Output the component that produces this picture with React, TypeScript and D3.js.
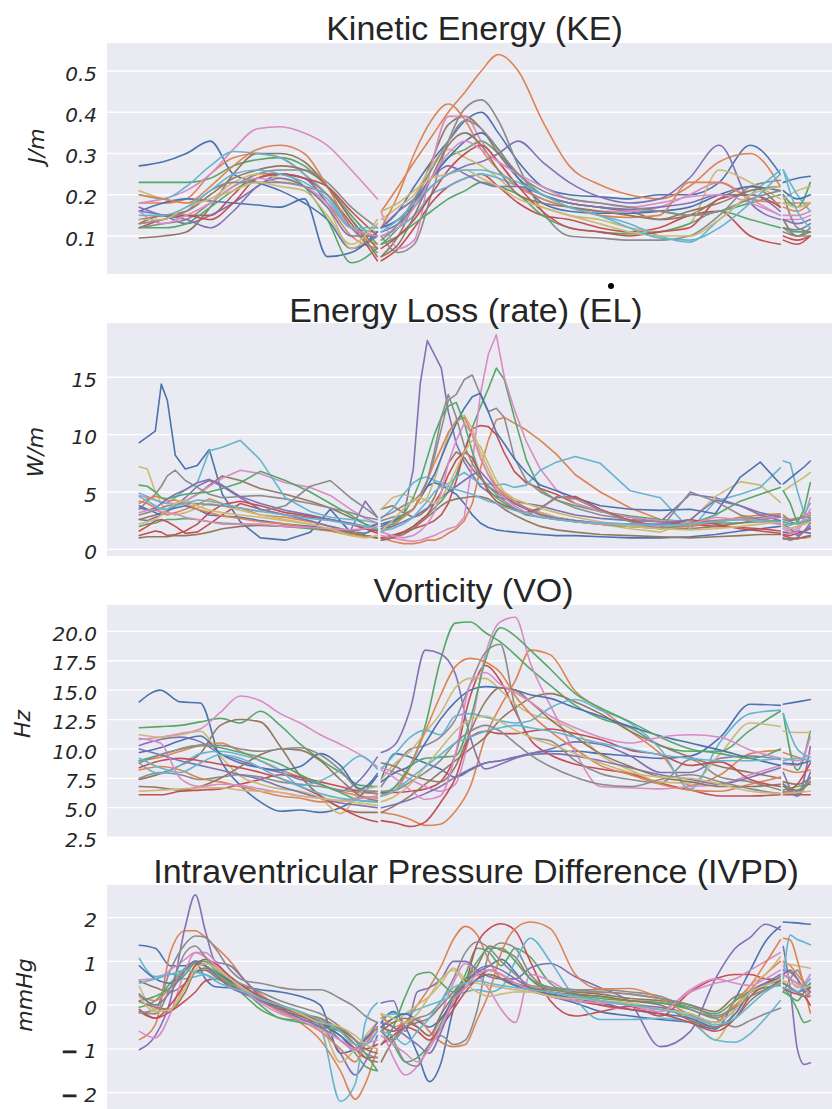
import * as d3 from 'd3'

// seaborn "deep" palette, one colour per case (cycled)
const palette = ['#4c72b0', '#dd8452', '#55a868', '#c44e52', '#8172b3', '#937860', '#da8bc3', '#8c8c8c', '#ccb974', '#64b5cd']

// sample times (ms) of the three recorded stretches of the cycle
const keTimes = [
  [0, 24, 47, 71, 94, 118, 141, 165, 188, 212, 238],
  [242, 259, 275, 292, 309, 326, 342, 359, 379, 403, 430, 460, 490, 520, 550, 580, 611, 641],
  [644, 658, 671],
]
const elTimes = [
  [0, 8, 16, 22, 28, 36, 46, 58, 70, 83, 101, 121, 146, 171, 191, 211, 226, 238],
  [242, 253, 264, 274, 281, 288, 295, 302, 309, 317, 325, 333, 341, 349, 357, 365, 375, 387, 401, 417, 436, 461, 491, 521, 551, 576, 601, 621, 641],
  [644, 651, 658, 665, 671],
]
const voTimes = [
  [0, 21, 41, 61, 81, 101, 121, 141, 161, 181, 201, 221, 238],
  [242, 256, 271, 286, 301, 316, 331, 346, 361, 376, 391, 411, 436, 461, 491, 521, 551, 581, 611, 641],
  [644, 658, 671],
]
const ipTimes = [
  [0, 16, 31, 46, 56, 66, 76, 91, 106, 121, 141, 161, 181, 201, 216, 226, 238],
  [242, 254, 266, 278, 290, 302, 314, 326, 338, 350, 362, 376, 391, 411, 436, 461, 491, 521, 551, 576, 596, 611, 626, 641],
  [644, 651, 658, 665, 671],
]

// Kinetic energy, J/m
const keSeries = [
  [[0.27,0.28,0.30,0.33,0.25,0.23,0.21,0.18,0.14,0.07,0.10],[0.12,0.16,0.22,0.28,0.33,0.38,0.40,0.35,0.28,0.22,0.20,0.195,0.19,0.20,0.20,0.23,0.32,0.25],[0.23,0.24,0.245]],
  [[0.18,0.18,0.19,0.25,0.29,0.30,0.29,0.25,0.18,0.10,0.07],[0.16,0.22,0.28,0.34,0.40,0.45,0.50,0.54,0.50,0.38,0.27,0.225,0.20,0.19,0.22,0.28,0.30,0.22],[0.18,0.18,0.18]],
  [[0.23,0.23,0.23,0.24,0.27,0.285,0.29,0.27,0.22,0.15,0.08],[0.08,0.12,0.18,0.24,0.29,0.31,0.33,0.30,0.25,0.20,0.18,0.17,0.16,0.16,0.15,0.16,0.18,0.20],[0.20,0.17,0.23]],
  [[0.12,0.14,0.15,0.15,0.20,0.25,0.25,0.24,0.20,0.13,0.04],[0.04,0.07,0.12,0.18,0.22,0.24,0.25,0.22,0.18,0.15,0.14,0.12,0.11,0.12,0.15,0.16,0.10,0.08],[0.09,0.08,0.10]],
  [[0.16,0.15,0.13,0.15,0.18,0.22,0.25,0.24,0.18,0.12,0.10],[0.11,0.13,0.17,0.22,0.25,0.27,0.28,0.30,0.33,0.28,0.23,0.195,0.18,0.19,0.24,0.32,0.18,0.14],[0.12,0.115,0.13]],
  [[0.095,0.10,0.11,0.17,0.25,0.30,0.30,0.28,0.22,0.14,0.05],[0.05,0.10,0.18,0.28,0.37,0.39,0.36,0.30,0.24,0.20,0.18,0.17,0.16,0.14,0.15,0.19,0.22,0.17],[0.14,0.10,0.12]],
  [[0.18,0.19,0.21,0.25,0.31,0.36,0.365,0.35,0.32,0.26,0.19],[0.16,0.07,0.09,0.27,0.39,0.39,0.33,0.28,0.22,0.19,0.17,0.16,0.16,0.17,0.20,0.23,0.19,0.15],[0.14,0.14,0.15]],
  [[0.12,0.13,0.14,0.18,0.22,0.25,0.26,0.26,0.23,0.17,0.12],[0.10,0.06,0.08,0.20,0.33,0.41,0.43,0.38,0.27,0.16,0.10,0.095,0.09,0.09,0.10,0.15,0.22,0.235],[0.20,0.12,0.11]],
  [[0.21,0.19,0.18,0.19,0.23,0.25,0.24,0.22,0.17,0.07,0.13],[0.14,0.17,0.20,0.27,0.31,0.29,0.27,0.24,0.20,0.17,0.15,0.14,0.12,0.11,0.13,0.26,0.23,0.19],[0.19,0.21,0.22]],
  [[0.20,0.19,0.22,0.27,0.305,0.30,0.29,0.25,0.20,0.12,0.11],[0.10,0.12,0.15,0.20,0.22,0.24,0.25,0.24,0.22,0.19,0.17,0.15,0.13,0.10,0.085,0.14,0.20,0.26],[0.26,0.20,0.16]],
  [[0.16,0.18,0.19,0.185,0.18,0.175,0.17,0.19,0.05,0.06,0.11],[0.12,0.14,0.18,0.24,0.29,0.33,0.35,0.31,0.24,0.18,0.16,0.155,0.155,0.16,0.17,0.20,0.22,0.21],[0.21,0.19,0.20]],
  [[0.20,0.19,0.18,0.22,0.27,0.31,0.32,0.30,0.22,0.12,0.08],[0.12,0.20,0.30,0.38,0.42,0.38,0.31,0.26,0.22,0.19,0.17,0.15,0.145,0.15,0.23,0.23,0.19,0.18],[0.17,0.16,0.18]],
  [[0.12,0.12,0.13,0.17,0.21,0.24,0.25,0.22,0.14,0.035,0.07],[0.08,0.10,0.13,0.16,0.19,0.21,0.23,0.22,0.20,0.15,0.12,0.11,0.105,0.11,0.13,0.16,0.14,0.12],[0.12,0.11,0.11]],
  [[0.13,0.15,0.15,0.14,0.18,0.24,0.25,0.24,0.22,0.16,0.10],[0.07,0.10,0.14,0.20,0.26,0.30,0.32,0.28,0.22,0.16,0.12,0.11,0.10,0.11,0.12,0.19,0.20,0.17],[0.10,0.09,0.10]],
  [[0.17,0.15,0.14,0.12,0.16,0.22,0.24,0.22,0.17,0.10,0.10],[0.12,0.16,0.19,0.24,0.27,0.25,0.23,0.22,0.22,0.20,0.18,0.17,0.165,0.17,0.18,0.20,0.20,0.16],[0.14,0.13,0.14]],
  [[0.14,0.15,0.16,0.20,0.24,0.26,0.27,0.26,0.22,0.14,0.07],[0.05,0.08,0.15,0.24,0.32,0.35,0.32,0.26,0.20,0.18,0.17,0.16,0.15,0.14,0.16,0.18,0.21,0.22],[0.11,0.10,0.11]],
  [[0.16,0.13,0.15,0.18,0.22,0.24,0.23,0.22,0.18,0.12,0.10],[0.10,0.12,0.17,0.24,0.30,0.33,0.31,0.28,0.25,0.22,0.19,0.18,0.17,0.18,0.195,0.20,0.18,0.15],[0.15,0.15,0.16]],
  [[0.13,0.14,0.16,0.21,0.23,0.23,0.23,0.22,0.20,0.12,0.06],[0.09,0.13,0.19,0.26,0.33,0.38,0.36,0.31,0.25,0.21,0.19,0.18,0.17,0.16,0.15,0.16,0.19,0.21],[0.12,0.10,0.10]],
  [[0.14,0.14,0.17,0.19,0.21,0.23,0.22,0.21,0.15,0.08,0.14],[0.16,0.18,0.21,0.24,0.25,0.26,0.24,0.22,0.19,0.17,0.15,0.13,0.11,0.10,0.10,0.14,0.20,0.22],[0.18,0.17,0.18]],
  [[0.15,0.15,0.17,0.21,0.25,0.26,0.25,0.23,0.19,0.12,0.12],[0.11,0.14,0.18,0.22,0.25,0.26,0.26,0.25,0.23,0.20,0.17,0.15,0.12,0.095,0.09,0.12,0.18,0.25],[0.26,0.16,0.12]],
]

// Energy loss rate, W/m
const elSeries = [
  [[9.3,9.8,10.3,14.4,13.0,8.2,7.0,7.3,8.7,4.8,2.4,1.0,0.8,1.5,3.5,1.5,1.4,1.8],[2.0,2.5,3.0,3.5,4.5,5.5,5.8,5.6,5.2,4.8,4.0,3.0,2.3,1.9,1.7,1.6,1.5,1.4,1.3,1.2,1.2,1.1,1.0,1.0,1.1,1.3,1.6,1.8,2.0],[1.5,1.4,1.6,1.5,1.4]],
  [[4.2,4.0,3.6,3.2,3.0,3.2,3.5,3.9,4.4,4.0,3.6,3.0,2.8,2.4,2.0,1.6,1.2,1.0],[1.0,0.7,0.5,0.5,0.6,0.8,0.8,1.0,1.4,1.8,2.5,4.0,7.0,9.5,11.3,11.5,11.0,10.4,9.5,8.3,6.5,5.0,3.6,2.6,2.0,2.3,2.8,3.0,3.1],[3.0,2.5,2.6,3.0,3.2]],
  [[2.0,2.2,2.3,2.5,2.6,2.6,2.7,2.6,2.4,2.3,2.2,2.1,2.0,1.8,1.6,1.4,1.2,1.0],[1.0,1.2,1.5,2.0,2.5,3.0,3.6,4.2,5.0,6.5,8.5,10.6,12.4,14.0,15.8,14.8,11.5,7.8,5.2,4.3,3.8,3.3,2.9,2.6,2.4,2.3,2.3,2.4,2.5],[2.4,2.2,2.3,2.4,2.5]],
  [[1.6,2.0,2.5,2.6,2.4,2.0,1.4,1.5,2.2,3.0,4.0,3.5,3.0,2.8,2.6,2.2,1.8,1.4],[1.0,1.2,1.5,1.8,2.0,2.2,2.5,3.0,4.0,6.0,8.5,10.5,10.8,10.7,10.0,8.4,6.8,5.8,5.3,4.8,4.0,3.3,2.8,2.4,2.2,2.0,1.9,1.8,1.6],[1.2,1.0,0.9,1.1,1.2]],
  [[2.6,2.5,2.8,3.0,3.3,3.8,4.5,5.5,6.0,5.5,4.5,3.5,3.0,2.5,2.0,1.6,4.2,2.8],[2.0,2.4,2.8,7.0,14.5,18.2,17.0,15.8,12.0,9.2,7.6,6.5,5.5,5.0,4.6,4.4,4.2,4.0,3.8,3.4,3.0,2.7,2.5,2.4,4.8,4.5,3.8,3.0,2.5],[1.0,0.8,1.0,1.6,2.3]],
  [[2.6,2.8,3.0,3.2,3.4,3.8,4.2,4.8,5.6,6.4,6.0,5.3,4.8,4.2,3.6,2.8,2.2,1.8],[3.5,3.8,3.2,2.8,3.0,3.5,4.5,6.0,7.5,8.5,8.0,7.0,6.2,5.5,5.0,4.5,4.0,3.6,3.2,2.8,2.5,2.2,2.0,1.9,1.8,2.0,2.3,2.6,2.8],[2.6,2.5,2.7,2.8,2.8]],
  [[4.7,4.5,4.3,4.1,4.0,4.0,4.2,4.8,5.5,6.2,6.9,6.6,5.8,5.4,4.7,3.5,2.7,2.3],[1.2,1.0,0.8,0.7,0.8,1.0,1.2,1.5,1.8,2.0,2.8,7.5,13.5,17.0,18.7,15.0,12.2,9.4,7.0,5.2,4.0,3.3,2.8,2.5,2.4,2.5,2.6,2.7,2.8],[2.0,1.6,1.8,2.8,4.5]],
  [[3.5,4.2,4.8,5.5,6.4,6.9,6.0,5.4,4.8,4.5,4.6,4.7,4.4,4.0,3.6,3.2,2.8,2.6],[2.5,2.8,3.0,3.5,4.5,6.0,8.0,10.5,13.0,13.5,14.8,15.2,13.5,12.0,12.3,11.5,8.0,6.0,5.0,4.3,3.6,3.0,2.6,2.4,2.4,2.5,2.6,2.8,3.0],[2.8,2.6,2.7,2.8,3.0]],
  [[7.2,7.0,5.0,4.0,3.2,3.0,3.2,3.6,4.0,3.8,3.4,3.0,2.6,2.2,1.6,1.2,2.0,2.2],[3.5,4.5,4.8,4.5,4.0,4.5,6.0,8.0,10.0,11.3,11.7,10.5,8.5,7.0,5.5,4.8,4.2,3.6,3.2,2.8,2.5,2.2,1.8,1.5,2.5,4.6,5.9,5.6,4.1],[5.1,5.5,5.9,6.3,6.7]],
  [[4.9,4.6,4.3,4.1,4.0,4.5,5.2,5.8,8.6,8.9,9.5,7.8,4.5,3.3,2.8,2.6,2.5,2.3],[2.7,3.5,4.8,5.8,6.2,6.3,6.0,5.8,5.7,6.3,6.7,6.2,5.7,5.7,5.6,5.7,5.4,5.6,6.9,7.6,8.1,7.5,5.1,4.5,1.7,4.2,4.8,5.4,7.1],[7.7,7.5,5.1,3.1,4.0]],
  [[3.8,3.5,3.2,3.0,3.4,3.6,3.8,3.5,3.0,2.9,2.8,2.5,2.2,2.0,1.8,1.6,1.8,2.2],[2.2,2.5,2.8,3.5,4.5,5.5,6.5,8.0,9.5,11.0,12.3,13.3,13.6,12.0,10.2,9.2,7.9,6.7,5.6,5.1,4.5,3.8,3.5,3.4,3.5,3.1,6.3,7.6,5.7],[5.7,6.2,6.7,7.2,7.7]],
  [[4.0,4.4,4.6,4.5,4.2,4.3,4.0,3.5,3.2,2.9,2.7,2.4,2.2,1.9,1.6,1.3,1.1,1.0],[1.5,2.0,2.8,3.5,4.5,6.0,7.5,8.8,10.2,11.2,11.5,10.0,8.0,6.5,5.5,4.8,4.2,3.6,3.1,2.7,2.4,2.2,2.0,1.9,2.0,2.4,2.8,2.6,2.2],[2.0,1.8,2.0,2.2,2.4]],
  [[5.6,5.5,5.0,4.5,4.4,4.6,4.8,4.9,5.0,5.3,5.8,6.8,6.0,5.0,4.0,3.0,2.2,1.6],[1.8,2.2,3.0,4.5,6.0,8.0,10.0,11.5,12.5,12.8,11.0,8.5,6.5,5.2,4.5,4.0,3.5,3.0,2.8,2.6,2.4,2.2,2.0,1.8,2.2,3.0,4.2,4.8,5.4],[5.1,4.0,2.3,3.5,5.8]],
  [[1.2,1.4,1.6,1.5,1.2,1.3,1.6,2.2,3.2,3.9,4.2,3.8,3.2,2.9,2.6,2.2,1.8,1.6],[0.8,1.0,1.5,2.0,2.5,3.0,4.0,5.0,6.5,7.8,8.5,8.0,6.5,5.0,4.2,3.8,3.5,3.2,3.6,4.5,4.6,3.5,2.5,2.0,2.6,2.2,1.8,1.6,1.4],[1.3,1.2,1.4,1.6,1.8]],
  [[3.6,3.4,3.6,4.0,4.4,4.8,5.2,5.8,6.1,5.6,4.6,4.0,3.4,3.0,2.6,2.3,2.0,1.8],[1.8,2.0,2.4,2.8,3.2,3.6,4.0,4.5,5.0,5.5,6.0,6.5,6.8,6.0,5.2,4.6,4.0,3.5,3.0,2.7,2.5,2.3,2.2,2.2,2.6,4.3,3.8,3.2,2.8],[2.2,1.8,1.2,1.5,2.0]],
  [[1.0,1.1,1.1,1.1,1.1,1.2,1.2,1.3,1.5,1.8,2.0,2.1,2.0,1.9,1.7,1.5,1.2,1.0],[0.8,1.0,1.3,1.8,2.3,2.8,3.3,3.8,4.2,4.4,4.5,4.6,4.6,4.4,4.0,3.5,3.0,2.5,2.0,1.7,1.5,1.3,1.2,1.1,1.0,1.1,1.2,1.3,1.3],[0.9,0.9,1.0,1.0,1.1]],
  [[3.2,3.4,3.4,3.3,3.2,3.1,2.8,2.6,2.4,2.2,2.2,2.2,2.0,1.9,1.8,1.7,1.8,2.0],[1.5,1.2,1.0,1.2,1.6,2.2,3.2,5.0,7.5,9.5,11.0,10.0,8.0,6.5,5.2,4.5,3.8,3.2,2.8,2.6,2.4,2.2,2.1,2.0,2.2,2.8,2.6,2.4,2.2],[1.8,1.4,1.5,2.5,3.5]],
  [[3.0,3.2,3.4,3.6,3.8,3.9,4.0,4.0,3.9,3.8,3.6,3.3,3.8,5.5,6.0,4.5,3.6,2.8],[2.8,3.2,3.8,4.2,4.8,6.0,8.5,11.5,13.5,11.5,9.0,7.5,6.3,5.5,4.8,4.2,3.6,3.0,3.5,4.6,4.4,3.4,2.4,1.8,5.0,4.2,3.0,2.6,2.4],[2.6,2.4,2.2,2.4,2.6]],
  [[2.2,2.4,2.6,3.0,3.5,4.0,4.3,3.8,3.4,3.2,3.0,2.8,2.5,2.2,1.8,1.2,1.0,1.2],[1.6,2.5,3.5,4.3,4.5,4.2,4.0,4.5,5.5,7.0,8.5,9.5,9.0,7.5,6.0,5.0,4.4,4.0,3.6,3.2,2.8,2.4,2.0,1.8,1.7,1.8,2.0,2.2,2.4],[2.0,1.8,2.0,2.2,2.4]],
  [[4.6,4.2,3.8,3.5,3.5,3.8,4.0,4.3,4.2,4.0,3.6,3.3,3.0,2.7,2.5,2.2,2.0,1.8],[1.6,1.8,2.2,2.8,3.5,4.2,5.0,5.5,5.5,5.2,5.0,4.8,4.5,4.2,4.0,3.7,3.4,3.1,2.8,2.6,2.4,2.3,2.2,2.1,2.2,2.4,2.6,2.5,2.4],[2.2,2.1,2.3,2.5,2.7]],
]

// Vorticity, Hz
const voSeries = [
  [[14.0,15.0,14.0,13.9,9.1,6.9,5.5,4.7,4.8,4.6,5.0,6.0,7.7],[7.4,9.6,9.3,8.8,8.3,7.6,8.2,8.8,9.0,9.3,9.6,9.8,9.8,9.6,9.4,9.2,9.4,11.0,13.8,13.7],[13.8,14.0,14.2]],
  [[9.0,9.3,9.8,10.3,10.5,9.8,9.0,8.2,7.6,7.0,6.4,6.0,5.8],[4.6,4.4,4.0,3.5,3.6,4.7,6.8,11.0,13.6,15.8,18.4,18.0,14.9,13.4,11.5,9.6,6.9,7.8,9.6,9.9],[9.7,9.3,9.0]],
  [[11.8,11.9,12.0,12.3,12.6,12.2,13.2,12.0,10.4,9.1,8.0,6.9,6.8],[6.2,6.8,8.6,12.0,17.5,20.7,20.8,19.9,19.1,18.0,16.8,15.4,13.7,12.6,11.8,10.3,9.8,9.8,11.6,13.2],[13.0,8.2,11.5]],
  [[6.1,6.1,6.4,6.5,6.6,7.0,7.4,7.8,7.6,7.2,6.8,6.4,6.2],[6.3,6.3,6.4,6.6,7.2,9.5,14.5,17.1,15.8,13.2,10.8,9.5,8.7,8.3,7.9,7.1,6.5,6.0,6.0,6.1],[6.1,6.1,6.1]],
  [[10.3,10.8,11.0,10.6,9.6,9.0,8.4,8.0,7.4,7.0,6.4,7.4,9.3],[9.7,10.4,13.4,18.4,18.1,16.4,11.0,8.3,8.7,9.2,9.6,10.0,10.6,10.4,9.4,8.0,8.0,9.2,9.4,9.1],[8.0,6.0,10.2]],
  [[7.4,7.9,8.6,9.6,12.0,12.5,12.3,10.2,7.7,6.0,5.0,4.6,4.6],[4.6,5.2,6.0,7.0,8.0,9.0,10.0,11.0,12.5,13.5,14.3,14.7,14.0,13.0,11.5,10.3,9.3,8.5,8.0,7.5],[7.2,7.0,7.5]],
  [[10.8,11.0,11.3,11.7,13.1,14.5,14.1,13.0,12.2,11.2,10.4,9.5,8.5],[8.4,8.0,7.4,6.8,6.4,7.0,11.5,18.0,20.8,21.2,17.3,13.7,9.7,6.8,6.7,6.6,6.8,7.0,7.8,8.6],[8.7,8.6,11.0]],
  [[7.5,8.0,7.8,7.4,7.6,7.8,7.6,7.2,7.0,6.8,6.5,6.3,6.2],[6.8,8.5,10.0,10.3,11.0,12.5,15.5,18.2,18.9,13.5,11.0,10.7,9.0,7.9,7.4,7.1,9.1,7.6,7.2,6.5],[7.0,6.5,7.5]],
  [[11.2,11.0,11.2,11.5,9.4,7.7,7.0,6.6,6.4,5.8,4.5,6.3,6.8],[7.4,8.8,9.8,11.4,13.0,15.2,16.0,16.0,15.0,13.8,13.0,12.5,11.5,9.5,8.2,7.2,7.1,9.6,12.2,11.9],[11.5,11.4,11.4]],
  [[8.8,7.9,8.6,9.6,9.8,9.5,9.0,8.2,6.9,7.3,8.2,9.4,8.3],[8.3,9.6,11.0,11.6,11.2,12.8,13.0,12.7,12.4,12.2,12.4,13.5,14.2,13.3,12.2,10.0,6.6,10.6,13.0,13.3],[13.0,10.0,9.3]],
  [[9.7,10.1,10.7,11.1,9.6,8.8,8.4,8.2,8.5,9.6,8.6,6.6,7.9],[7.2,8.0,8.6,10.5,12.5,14.0,15.0,15.3,15.2,15.0,14.6,14.3,13.5,12.8,11.9,11.1,10.5,9.9,9.2,8.6],[8.8,8.7,9.0]],
  [[8.2,8.5,8.2,7.5,7.2,6.8,6.4,6.0,5.8,5.5,5.6,5.8,6.0],[6.0,6.5,8.5,11.5,14.5,17.0,17.7,17.4,16.5,14.5,13.0,11.5,10.0,8.6,7.8,7.0,6.5,6.4,7.0,7.6],[8.3,8.0,8.2]],
  [[9.0,9.5,10.0,10.3,10.1,9.7,9.3,8.7,7.8,7.0,6.3,5.6,5.5],[6.0,6.8,8.5,9.2,9.3,9.4,12.5,17.5,20.3,19.6,18.4,16.8,14.7,13.5,12.3,11.0,10.0,9.6,9.2,10.0],[6.5,6.8,7.0]],
  [[8.4,9.0,9.2,9.0,8.7,8.4,8.0,7.5,6.8,6.0,5.0,4.2,3.8],[3.9,3.7,3.4,3.8,5.4,7.5,11.0,11.5,11.3,11.3,11.5,11.7,11.3,10.8,9.9,9.5,8.6,8.9,7.4,6.8],[6.3,7.0,8.8]],
  [[10.0,9.5,9.0,8.6,8.2,7.8,7.4,6.8,6.3,5.8,5.4,5.2,5.0],[5.0,5.3,5.7,6.2,6.8,7.6,8.3,8.8,9.0,9.3,9.5,9.6,9.4,9.0,8.4,7.8,7.4,7.0,7.6,8.4],[7.0,6.0,8.0]],
  [[6.8,6.7,6.5,6.8,7.5,8.5,9.5,10.0,9.9,9.0,7.4,6.0,5.6],[8.8,8.5,7.8,7.4,7.2,8.5,11.5,14.0,15.2,15.0,14.0,12.5,11.0,9.6,8.5,7.6,7.2,6.8,6.8,7.0],[6.8,6.4,7.2]],
  [[10.9,10.5,7.5,6.8,7.0,6.9,6.6,6.3,6.0,5.8,5.6,5.8,5.9],[8.2,7.5,6.5,5.7,6.0,9.5,15.5,16.5,15.5,14.8,14.0,12.8,11.8,11.0,10.5,11.0,11.2,11.0,9.9,9.2],[9.2,9.0,9.6]],
  [[8.8,9.5,10.0,10.3,10.3,10.0,9.8,10.0,10.1,9.5,8.2,6.5,6.4],[6.4,6.5,7.2,8.0,9.0,10.5,11.5,12.0,11.5,10.5,9.5,8.5,7.6,7.0,6.8,7.4,7.8,7.2,6.6,6.2],[6.4,6.2,7.6]],
  [[6.4,6.5,6.6,6.7,6.7,6.5,6.4,6.3,6.0,5.8,5.6,5.4,5.2],[5.5,6.0,7.0,8.5,10.0,11.5,12.5,12.8,12.3,11.6,11.0,10.4,9.6,8.8,8.0,7.6,7.5,7.0,6.4,6.2],[6.2,6.3,6.4]],
  [[9.2,8.4,8.0,8.8,9.5,9.2,8.4,7.5,6.8,6.2,5.8,5.6,5.5],[6.0,6.5,7.5,8.5,9.5,10.5,11.0,11.5,11.8,12.0,11.8,11.5,11.0,10.5,10.0,9.5,9.2,9.0,9.0,9.2],[9.0,9.2,9.0]],
]

// Intraventricular pressure difference, mmHg
const ipSeries = [
  [[1.37,1.3,0.9,0.9,1.0,0.6,0.42,0.4,0.4,0.35,0.3,0.2,0.0,-1.1,-1.0,-0.75,-0.55],[-0.4,-0.15,-0.5,-1.1,-1.75,-1.3,-0.1,0.55,0.75,0.9,1.05,0.75,0.35,0.2,0.05,-0.15,-0.25,-0.33,-0.4,-0.55,0.15,0.8,1.45,1.8],[1.9,1.89,1.88,1.86,1.85]],
  [[-0.79,-0.45,1.2,1.7,1.7,1.55,1.34,1.0,0.55,0.25,-0.05,-0.4,-0.8,-1.5,-2.15,-1.8,-1.0],[-0.5,-0.6,-0.4,0.0,0.4,0.9,1.5,1.8,1.6,1.0,0.6,0.45,0.4,0.35,0.3,0.3,0.25,0.15,0.0,-0.25,0.0,0.35,0.7,1.0],[1.0,0.9,0.7,0.5,0.4]],
  [[-0.05,0.1,0.5,0.85,1.0,1.0,0.8,0.55,0.3,0.0,-0.3,-0.35,-0.4,-0.8,-1.1,-1.4,-1.5],[-0.6,-0.9,-1.3,-1.2,-0.9,-0.4,0.2,0.7,1.3,1.2,0.9,1.3,1.1,0.5,0.25,0.15,0.1,0.05,-0.1,-0.3,-0.05,0.2,0.35,0.5],[0.4,0.2,-0.1,-0.4,-0.35]],
  [[-0.15,-0.3,-0.15,0.1,0.3,0.55,0.6,0.5,0.35,0.15,-0.1,-0.25,-0.45,-0.7,-1.0,-1.2,-1.2],[-0.5,-0.6,-0.4,-0.5,-0.7,-0.3,0.0,0.5,1.41,1.75,1.86,1.7,1.0,0.1,-0.25,-0.15,-0.03,-0.25,0.3,0.6,0.7,0.7,0.6,0.58],[0.4,0.3,0.25,0.2,0.2]],
  [[-1.02,-0.7,0.1,1.8,2.52,1.7,1.0,0.9,0.55,0.2,-0.05,-0.2,-0.45,-1.1,-1.6,-1.3,-0.7],[0.05,0.1,-0.6,0.3,0.4,0.6,1.0,1.0,0.8,0.65,0.6,0.6,0.85,0.95,0.65,0.4,0.05,-0.95,-0.6,0.6,1.3,1.55,1.85,1.72],[1.34,0.35,-1.0,-1.36,-1.32]],
  [[0.55,0.4,0.3,0.5,0.75,0.85,0.7,0.5,0.3,0.1,-0.1,-0.25,-0.4,-0.6,-0.9,-1.2,-1.3],[-1.3,-0.8,-0.5,-0.4,-0.3,0.0,0.3,0.6,0.9,1.35,1.25,1.1,0.6,0.35,0.3,0.25,0.15,0.1,0.0,-0.15,0.2,0.3,0.45,0.65],[0.8,0.75,0.6,0.4,0.5]],
  [[-0.6,-0.75,-0.2,0.8,1.2,1.2,1.0,0.6,0.3,0.1,-0.15,-0.3,-0.5,-0.8,-1.05,-0.9,-0.8],[-0.5,-1.2,-1.6,-1.4,-0.9,-0.2,0.5,0.95,0.7,0.35,-0.1,-0.4,0.7,0.55,0.2,0.0,-0.1,-0.1,0.3,0.5,0.6,0.8,1.0,1.2],[0.9,0.6,0.4,0.5,0.7]],
  [[-0.18,-0.1,0.8,1.4,1.58,1.55,1.3,0.8,0.55,0.5,0.4,0.35,0.35,0.15,-0.05,-0.25,-0.4],[-0.4,-0.8,-1.3,-1.4,-0.9,-0.7,-0.9,-0.8,-0.1,1.2,1.42,1.3,0.7,0.4,0.35,0.35,0.3,0.2,-0.1,-0.3,-0.5,-0.35,-0.2,-0.07],[0.3,0.6,0.8,0.5,0.3]],
  [[0.43,-0.1,-0.1,0.5,0.9,0.95,0.85,0.6,0.4,0.2,0.0,-0.15,-0.4,-1.3,-1.0,-0.7,-0.4],[-0.3,-0.4,-0.2,0.0,0.2,0.5,0.85,0.6,0.5,0.45,0.4,0.35,0.3,0.25,0.15,0.1,0.05,-0.1,-0.3,-0.8,-0.1,0.45,0.7,1.1],[0.96,0.93,0.9,0.87,0.84]],
  [[1.07,0.65,0.72,0.6,0.65,0.7,0.6,0.5,0.35,0.2,0.0,-0.2,-0.5,-2.2,-1.8,-0.4,0.05],[-0.3,-0.2,-0.2,-0.1,0.0,0.1,0.2,0.3,0.35,0.3,0.4,1.0,1.53,1.0,0.15,-0.33,-0.33,-0.3,-0.4,-0.8,-0.85,-0.65,-0.3,0.1],[0.6,1.6,1.5,1.44,1.38]],
  [[0.9,0.6,0.5,0.8,0.95,0.9,0.75,0.55,0.35,0.15,-0.05,-0.2,-0.4,-0.7,-1.0,-0.8,-0.5],[-0.5,-0.3,-0.2,-0.35,-0.5,-0.3,0.1,0.4,0.6,0.7,0.6,0.45,0.35,0.25,0.15,0.05,-0.1,-0.2,-0.3,-0.5,-0.2,0.3,0.5,0.6],[0.5,0.4,0.3,0.35,0.4]],
  [[0.2,0.1,0.4,0.8,0.95,0.9,0.7,0.5,0.3,0.1,-0.15,-0.35,-0.6,-1.0,-1.3,-0.9,-0.5],[-0.2,-0.5,-0.4,-0.3,-0.6,-0.85,-0.95,-0.9,-0.33,0.3,1.2,1.75,1.9,1.75,0.7,0.37,0.38,0.15,-0.22,-0.4,0.1,0.45,0.95,1.49],[1.53,1.49,1.03,0.4,-0.18]],
  [[0.1,0.2,0.4,0.7,0.95,0.9,0.75,0.5,0.2,-0.1,-0.3,-0.4,-0.5,-0.6,-0.8,-1.1,-1.5],[-0.9,-0.5,0.2,0.7,0.75,0.5,0.3,0.6,1.0,1.3,1.3,1.0,0.6,0.4,0.25,0.2,0.1,0.05,-0.05,-0.2,0.1,0.3,0.4,0.45],[0.3,0.2,0.1,0.3,0.5]],
  [[-0.1,-0.3,0.0,0.5,0.9,1.05,0.95,0.65,0.4,0.2,0.0,-0.2,-0.35,-0.55,-0.8,-1.0,-0.9],[-0.9,-0.7,-0.5,-0.6,-0.8,-0.5,-0.1,0.3,0.6,0.8,0.7,0.5,0.35,0.2,0.1,0.0,-0.1,-0.2,-0.4,-0.6,-0.3,0.2,0.45,0.55],[0.5,0.4,0.3,0.2,0.0]],
  [[0.25,0.0,0.3,0.8,1.0,0.9,0.7,0.4,0.25,0.1,-0.1,-0.3,-0.5,-0.8,-1.0,-0.8,-0.4],[-0.4,-0.5,-0.7,-0.9,-1.1,-0.6,0.1,0.5,0.8,0.9,0.8,0.6,0.4,0.3,0.2,0.1,0.0,-0.05,-0.2,-0.4,-0.1,0.3,0.5,0.7],[0.7,0.8,0.6,0.3,0.4]],
  [[0.08,-0.05,-0.1,0.3,0.75,0.8,0.65,0.45,0.3,0.15,-0.05,-0.2,-0.3,-0.55,-0.8,-1.0,-1.1],[-0.6,-0.4,-0.3,-0.5,-0.7,-0.2,0.2,0.5,0.7,0.7,0.6,0.5,0.4,0.3,0.25,0.2,0.1,0.0,-0.35,-0.5,-0.3,0.1,0.35,0.55],[0.7,0.6,0.5,0.4,0.3]],
  [[0.58,0.6,0.8,1.05,1.2,1.1,0.9,0.6,0.3,0.05,-0.2,-0.35,-0.55,-0.8,-1.0,-0.9,-0.6],[-0.7,-0.9,-1.1,-1.3,-1.0,-0.5,0.1,0.4,0.7,0.8,0.7,0.5,0.35,0.2,0.1,0.05,0.0,-0.15,0.35,0.6,0.5,0.45,0.6,0.8],[0.7,0.6,0.5,0.4,0.2]],
  [[-0.15,-0.2,0.4,1.2,1.35,1.1,0.85,0.6,0.45,0.3,0.1,-0.05,-0.2,-0.5,-0.8,-1.1,-1.2],[-0.6,-0.8,-0.5,-0.3,-0.2,0.1,0.6,1.2,1.45,1.3,1.0,0.7,0.45,0.4,0.35,0.3,0.25,0.15,0.0,-0.25,-0.05,0.2,0.35,0.5],[0.5,0.4,0.3,0.2,0.3]],
  [[0.2,-0.15,-0.1,0.4,0.8,0.95,0.85,0.6,0.35,0.15,0.0,-0.2,-0.4,-0.5,-0.7,-0.9,-1.0],[-0.2,-0.3,-0.4,-0.2,0.2,0.6,0.8,0.5,0.3,0.2,0.25,0.3,0.3,0.2,0.15,0.1,0.0,-0.1,-0.2,-0.4,-0.1,0.3,0.45,0.6],[0.55,0.5,0.45,0.4,0.45]],
  [[0.5,0.6,0.7,0.8,0.75,0.7,0.55,0.4,0.3,0.15,0.0,-0.15,-0.35,-0.6,-0.9,-0.9,-0.6],[-0.6,-0.7,-0.9,-0.6,-0.3,0.1,0.4,0.5,0.55,0.5,0.45,0.4,0.35,0.3,0.2,0.1,0.0,-0.1,-0.25,-0.45,-0.3,0.0,0.3,0.5],[0.4,0.35,0.3,0.45,0.6]],
]

const keTicks = [0.1, 0.2, 0.3, 0.4, 0.5]
const elTicks = [0, 5, 10, 15]
const voTicks = [2.5, 5, 7.5, 10, 12.5, 15, 17.5, 20]
const ipTicks = [-2, -1, 0, 1, 2]

const W = 832
const H = 1109
const plotLeft = 107
const plotRight = 848
const ink = '#262626'

const x = d3.scaleLinear().domain([0, 671]).range([139.3, 810.3])

const panels = [
  { title: 'Kinetic Energy (KE)', unit: 'J/m', times: keTimes, series: keSeries, ticks: keTicks, fmt: (v: number) => v.toFixed(1),
    domain: [0.0079, 0.5679], top: 43, bottom: 274, titleX: 474.5, titleY: 40, labelX: 43.5, labelY: 146, curve: d3.curveMonotoneX },
  { title: 'Energy Loss (rate) (EL)', unit: 'W/m', times: elTimes, series: elSeries, ticks: elTicks, fmt: (v: number) => String(v),
    domain: [-0.58, 19.73], top: 323, bottom: 556, titleX: 466, titleY: 322, labelX: 43, labelY: 452, curve: d3.curveLinear },
  { title: 'Vorticity (VO)', unit: 'Hz', times: voTimes, series: voSeries, ticks: voTicks, fmt: (v: number) => v.toFixed(1),
    domain: [2.51, 22.24], top: 605, bottom: 837, titleX: 473.5, titleY: 602, labelX: 30, labelY: 724, curve: d3.curveMonotoneX },
  { title: 'Intraventricular Pressure Difference (IVPD)', unit: 'mmHg', times: ipTimes, series: ipSeries, ticks: ipTicks, fmt: (v: number) => String(Math.abs(v)),
    domain: [-2.377, 2.747], top: 885, bottom: 1109, titleX: 476, titleY: 883, labelX: 31.5, labelY: 995, curve: d3.curveMonotoneX },
]

function Panel({ p }: { p: (typeof panels)[number] }) {
  const y = d3.scaleLinear().domain(p.domain).range([p.bottom, p.top])
  const line = d3
    .line<[number, number]>()
    .defined(d => d[1] != null && !isNaN(d[1]))
    .x(d => x(d[0]))
    .y(d => y(d[1]))
    .curve(p.curve)

  return (
    <g>
      <rect x={plotLeft} y={p.top} width={plotRight - plotLeft} height={p.bottom - p.top} fill="#eaeaf2" />
      {p.ticks.map(t => (
        <line key={t} x1={plotLeft} x2={plotRight} y1={y(t)} y2={y(t)} stroke="#fff" strokeWidth={1.3} />
      ))}
      {p.series.map((s, i) =>
        s.map((seg, k) => (
          <path
            key={`${i}-${k}`}
            d={line(p.times[k].map((t, j) => [t, seg[j]] as [number, number])) || ''}
            fill="none"
            stroke={palette[i % palette.length]}
            strokeWidth={1.6}
            strokeLinejoin="round"
            strokeLinecap="round"
          />
        ))
      )}
      {p.ticks.map(t => (
        <text
          key={`t${t}`}
          x={97}
          y={y(t) + 9.6}
          textAnchor="end"
          fontFamily="DejaVu Sans"
          fontStyle="italic"
          fontSize={20}
          fill={ink}
        >
          {t < 0 ? (
            <>
              <tspan fontStyle="normal" stroke={ink} strokeWidth={1.1}>{'\u2212'}</tspan>
              <tspan>{' ' + p.fmt(t)}</tspan>
            </>
          ) : (
            p.fmt(t)
          )}
        </text>
      ))}
      <text
        transform={`translate(${p.labelX},${p.labelY}) rotate(-90)`}
        textAnchor="middle"
        fontFamily="DejaVu Sans"
        fontStyle="italic"
        fontSize={22}
        fill={ink}
      >
        {p.unit}
      </text>
      <text x={p.titleX} y={p.titleY} textAnchor="middle" fontFamily="Liberation Sans, Arial, sans-serif" fontSize={34} fill={ink}>
        {p.title}
      </text>
    </g>
  )
}

export default function App() {
  return (
    <svg
      width={W}
      height={H}
      viewBox={`0 0 ${W} ${H}`}
      style={{ position: 'absolute', left: 0, top: 0, display: 'block', background: '#fff' }}
    >
      <rect width={W} height={H} fill="#fff" />
      {panels.map(p => (
        <Panel key={p.title} p={p} />
      ))}
      <circle cx={611} cy={286} r={3} fill="#000" />
    </svg>
  )
}
